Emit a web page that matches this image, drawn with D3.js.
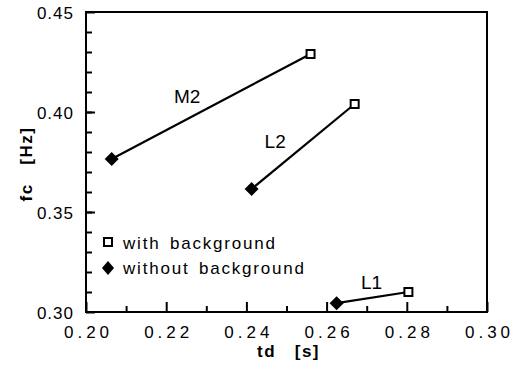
<!DOCTYPE html>
<html>
<head>
<meta charset="utf-8">
<script src="https://cdn.jsdelivr.net/npm/d3@7"></script>
<style>
  body { margin: 0; background: #fff; }
  svg { display: block; font-family: "Liberation Sans", Arial, sans-serif; }
</style>
</head>
<body>
<div id="chart"></div>
<script>
// measured pairs: subject, td [s] and fc [Hz] with / without background
const subjects = ['M2', 'L2', 'L1']
const tdWith = [0.256, 0.267, 0.2804]
const fcWith = [0.429, 0.404, 0.310]
const tdWithout = [0.2064, 0.2413, 0.2625]
const fcWithout = [0.3765, 0.3615, 0.3044]

const xTicks = [0.20, 0.22, 0.24, 0.26, 0.28, 0.30]
const yTicks = [0.30, 0.35, 0.40, 0.45]
const legendLabels = ['with background', 'without background']

const width = 524
const height = 365
const margin = {top: 12, right: 37, bottom: 53, left: 86}

const svg = d3.select('#chart')
  .append('svg')
  .attr('width', width)
  .attr('height', height)

let x = d3.scaleLinear()
  .domain([0.20, 0.30])
  .range([margin.left, width - margin.right])

let y = d3.scaleLinear()
  .domain([0.30, 0.45])
  .range([height - margin.bottom, margin.top])

// minor ticks every 0.01, drawn inward
svg.append('g')
  .attr('transform', `translate(0, ${y(0.30)})`)
  .call(d3.axisBottom(x).tickValues(d3.range(21, 30, 2).map(d => d / 100)).tickSize(-6).tickFormat(''))
  .call(g => g.select('.domain').remove())
  .call(g => g.selectAll('.tick line').attr('stroke-width', 2))

svg.append('g')
  .attr('transform', `translate(${x(0.20)}, 0)`)
  .call(d3.axisLeft(y).tickValues(d3.range(31, 45).map(d => d / 100)).tickSize(-6).tickFormat(''))
  .call(g => g.select('.domain').remove())
  .call(g => g.selectAll('.tick line').attr('stroke-width', 2))

// major ticks + labels
svg.append('g')
  .attr('transform', `translate(0, ${y(0.30)})`)
  .call(d3.axisBottom(x).tickValues(xTicks).tickSize(-10).tickPadding(14).tickFormat(d3.format('.2f')))
  .call(g => g.select('.domain').remove())
  .call(g => g.selectAll('.tick line').attr('stroke-width', 2))
  .call(g => g.selectAll('.tick text')
    .attr('font-size', 17)
    .attr('letter-spacing', 4)
    .attr('dx', 2)
    .attr('fill', '#000'))

svg.append('g')
  .attr('transform', `translate(${x(0.20)}, 0)`)
  .call(d3.axisLeft(y).tickValues(yTicks).tickSize(-9).tickPadding(12).tickFormat(d3.format('.2f')))
  .call(g => g.select('.domain').remove())
  .call(g => g.selectAll('.tick line').attr('stroke-width', 2))
  .call(g => g.selectAll('.tick text')
    .attr('font-size', 17)
    .attr('letter-spacing', 1)
    .attr('dy', '0.4em')
    .attr('fill', '#000'))

// plot frame
svg.append('rect')
  .attr('x', x(0.20))
  .attr('y', y(0.45))
  .attr('width', x(0.30) - x(0.20))
  .attr('height', y(0.30) - y(0.45))
  .attr('fill', 'none')
  .attr('stroke', '#000')
  .attr('stroke-width', 2)

// axis titles
svg.append('text')
  .attr('x', (x(0.20) + x(0.30)) / 2 + 2)
  .attr('y', 357)
  .attr('text-anchor', 'middle')
  .attr('font-size', 17)
  .attr('font-weight', 'bold')
  .attr('letter-spacing', 1.5)
  .attr('xml:space', 'preserve')
  .text('td   [s]')

svg.append('text')
  .attr('transform', `translate(32, ${(y(0.30) + y(0.45)) / 2 + 2}) rotate(-90)`)
  .attr('text-anchor', 'middle')
  .attr('font-size', 17)
  .attr('font-weight', 'bold')
  .attr('letter-spacing', 1.5)
  .attr('xml:space', 'preserve')
  .text('fc   [Hz]')

// connecting lines
let pairs = subjects.map((s, i) => ({
  name: s,
  x0: tdWithout[i], y0: fcWithout[i],
  x1: tdWith[i], y1: fcWith[i]
}))

svg.append('g').selectAll('line')
  .data(pairs)
  .join('line')
  .attr('x1', d => x(d.x0))
  .attr('y1', d => y(d.y0))
  .attr('x2', d => x(d.x1))
  .attr('y2', d => y(d.y1))
  .attr('stroke', '#000')
  .attr('stroke-width', 2.2)

// label offsets from the segment midpoint
const labelOffset = {M2: [-24, -4], L2: [-28, 1], L1: [-1, -9]}
svg.append('g').selectAll('text')
  .data(pairs)
  .join('text')
  .attr('x', d => (x(d.x0) + x(d.x1)) / 2 + labelOffset[d.name][0])
  .attr('y', d => (y(d.y0) + y(d.y1)) / 2 + labelOffset[d.name][1])
  .attr('text-anchor', 'middle')
  .attr('font-size', 19)
  .attr('fill', '#000')
  .text(d => d.name)

let diamond = (cx, cy, rx, ry) => `M${cx},${cy - ry}L${cx + rx},${cy}L${cx},${cy + ry}L${cx - rx},${cy}Z`

svg.append('g').selectAll('path')
  .data(pairs)
  .join('path')
  .attr('d', d => diamond(x(d.x0), y(d.y0), 7, 7))
  .attr('fill', '#000')

svg.append('g').selectAll('rect')
  .data(pairs)
  .join('rect')
  .attr('x', d => x(d.x1) - 4)
  .attr('y', d => y(d.y1) - 4)
  .attr('width', 8)
  .attr('height', 8)
  .attr('fill', '#fff')
  .attr('stroke', '#000')
  .attr('stroke-width', 2)

// legend
let legend = svg.append('g').attr('transform', 'translate(108, 242)')
legend.append('rect')
  .attr('x', -4).attr('y', -4)
  .attr('width', 8).attr('height', 8)
  .attr('fill', '#fff')
  .attr('stroke', '#000')
  .attr('stroke-width', 2)
legend.append('path')
  .attr('d', diamond(0, 26, 6, 7))
  .attr('fill', '#000')
legend.selectAll('text')
  .data(legendLabels)
  .join('text')
  .attr('x', 15)
  .attr('y', (d, i) => 7 + i * 25)
  .attr('font-size', 17)
  .attr('letter-spacing', 1.8)
  .attr('word-spacing', 3)
  .attr('fill', '#000')
  .text(d => d)
</script>
</body>
</html>
